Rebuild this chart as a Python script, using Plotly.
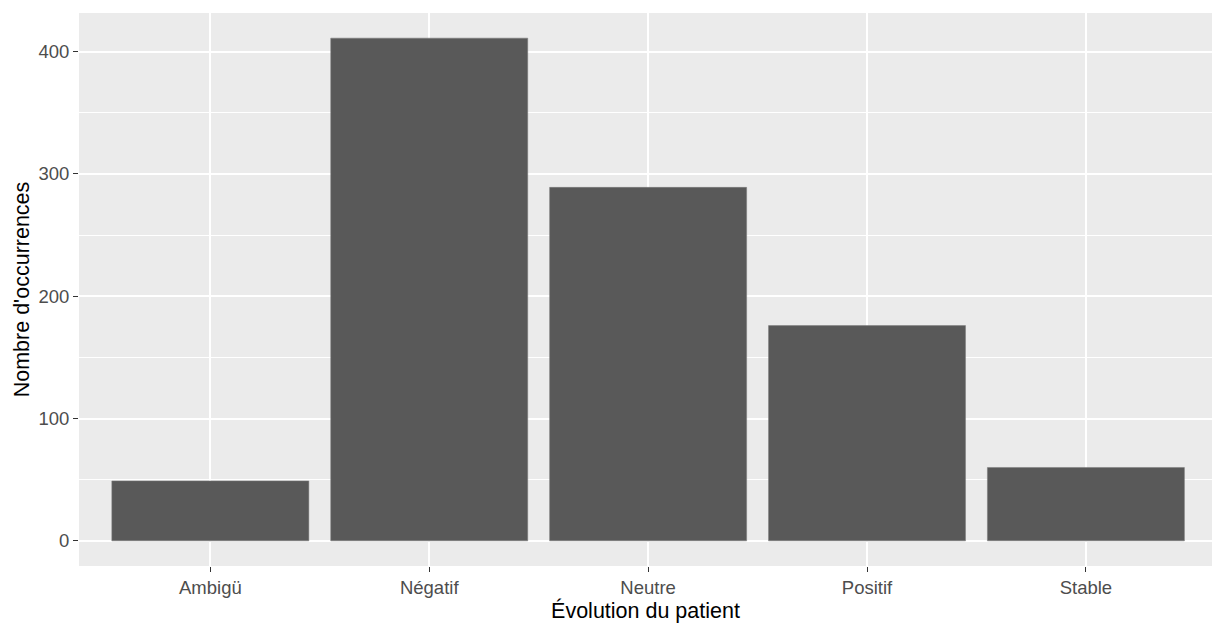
import plotly.graph_objects as go

categories = ["Ambigü", "Négatif", "Neutre", "Positif", "Stable"]
counts = [49, 411, 289, 176, 60]
y_ticks = [0, 100, 200, 300, 400]
y_minor = [50, 150, 250, 350]

fig = go.Figure()
fig.add_trace(go.Bar(
    x=categories, y=counts, width=0.9,
    marker=dict(color="#595959", line=dict(color="#7a7a7a", width=0.5)),
))

# the grey panel runs off the right edge, as in the reference
fig.update_layout(
    width=1212, height=624,
    margin=dict(l=79, r=0, t=13, b=58, autoexpand=False),
    paper_bgcolor="white", plot_bgcolor="#EBEBEB",
    font=dict(family="Liberation Sans, Arial, sans-serif", color="#4D4D4D", size=18.5),
    showlegend=False, bargap=0.1,
)
fig.update_xaxes(
    range=[-0.6, 4.576], showgrid=True, gridcolor="white", gridwidth=1.6,
    ticks="outside", ticklen=5, tickcolor="#333333", tickwidth=1.1,
    tickfont=dict(size=18.5, color="#4D4D4D"),
    title=dict(text="Évolution du patient", font=dict(size=21.5, color="black"), standoff=3),
    zeroline=False, showline=False, automargin=False,
)
fig.update_yaxes(
    range=[-20.55, 431.55], tickvals=y_ticks, showgrid=True, gridcolor="white", gridwidth=1.6,
    minor=dict(tickvals=y_minor, showgrid=True, gridcolor="white", gridwidth=0.8),
    ticks="outside", ticklen=5, tickcolor="#333333", tickwidth=1.1,
    tickfont=dict(size=18.5, color="#4D4D4D"),
    title=dict(text="Nombre d'occurrences", font=dict(size=21.5, color="black"), standoff=2),
    zeroline=False, showline=False, automargin=False,
)

fig.write_html(
    "out.html",
    config={"displayModeBar": False},
    post_script="document.body.style.margin='0';document.body.style.overflow='hidden';",
)
